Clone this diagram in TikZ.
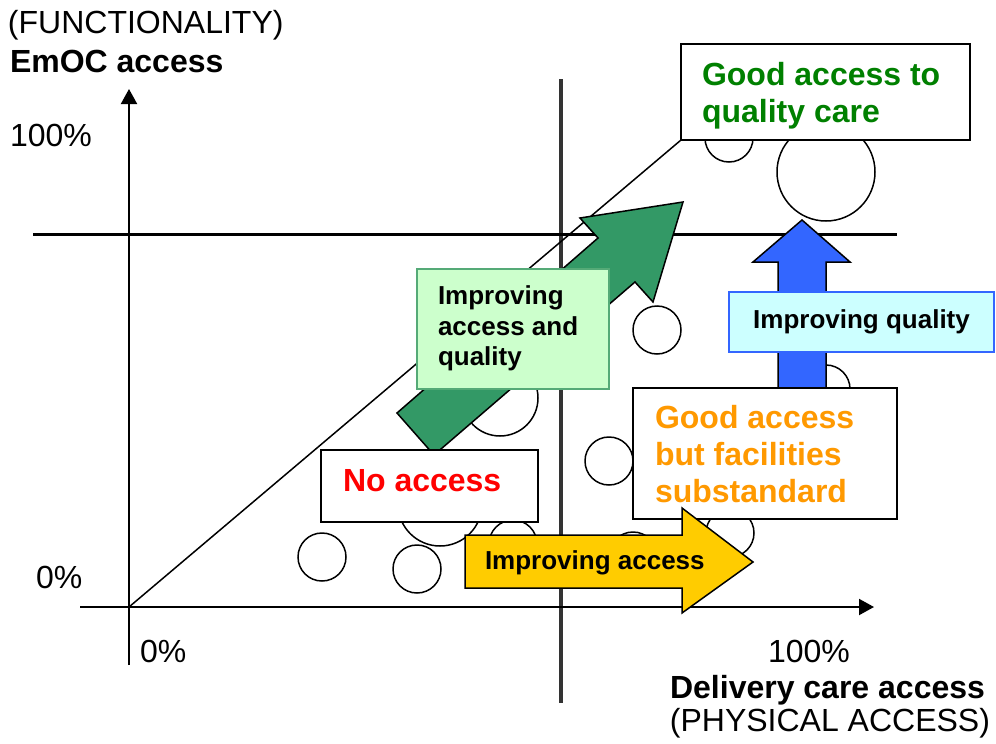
\documentclass[tikz,border=0pt]{standalone}
\usepackage{fontspec}
\setmainfont{Liberation Sans}
\usetikzlibrary{arrows.meta,fit}
\definecolor{tgreen}{HTML}{008000}
\definecolor{torange}{HTML}{FF9900}
\definecolor{agreen}{HTML}{339966}
\definecolor{lgreen}{HTML}{CCFFCC}
\definecolor{lgreenb}{HTML}{55AA77}
\definecolor{ablue}{HTML}{3366FF}
\definecolor{lcyan}{HTML}{CCFFFF}
\definecolor{ayellow}{HTML}{FFCC00}
\definecolor{vgray}{HTML}{333333}
\begin{document}
\begin{tikzpicture}[x=1pt,y=-1pt,
  big/.style={font=\fontsize{32}{36.8}\selectfont},
  bigb/.style={font=\fontsize{32}{36.8}\selectfont\bfseries},
  smallb/.style={font=\fontsize{26}{30.5}\selectfont\bfseries},
  lbl/.style={inner sep=0pt, outer sep=0pt, align=left},
  box/.style={draw, line width=2pt, fill=white, inner sep=0pt, outer sep=0pt},
  circ/.style={draw, circle, line width=1.5pt, fill=white, inner sep=0pt, outer sep=0pt, minimum size=48pt},
  axisline/.style={line width=2pt, -{Triangle[length=15pt,width=16pt]}},
  shapeline/.style={draw, line width=1.5pt, line join=miter}]
\useasboundingbox (0,0) rectangle (996,744);

% guide lines
\coordinate (vt) at (561,79);
\coordinate (vb) at (561,703);
\coordinate (hl) at (33,234);
\coordinate (hr) at (897,234);
\draw[line width=3.5pt, vgray] (vt) -- (vb);
\draw[line width=3pt] (hl) -- (hr);

% axes
\coordinate (o) at (129,607);
\coordinate (yb) at (129,665);
\coordinate (yt) at (129,89);
\coordinate (xl) at (80,607);
\coordinate (xr) at (874,607);
\draw[axisline] (yb) -- (yt);
\draw[axisline] (xl) -- (xr);

% good access to quality care box (defined for diagonal end)
\coordinate (gqnw) at (681,44);
\coordinate (gqse) at (970,140);
\draw[line width=1.5pt] (o) -- (gqnw |- gqse);

% circles
\node[circ] (c1) at (322,557) {};
\node[circ] (c2) at (417,569) {};
\node[circ] (c3) at (513,544) {};
\node[circ, minimum size=84pt] (c4) at (440,504) {};
\node[circ] (c5) at (633,556) {};
\node[circ] (c6) at (730,533) {};
\node[circ] (c7) at (609,461) {};
\node[circ] (c8) at (657,330) {};
\node[circ] (c9) at (826,389) {};
\node[circ] (c10) at (729,138) {};
\node[circ, minimum size=98pt] (c11) at (826,172) {};
\node[circ, minimum size=76pt] (c12) at (500,398) {};

% top box
\node[box, fit=(gqnw)(gqse)] (gq) {};
\node[lbl, bigb, text=tgreen, anchor=base west] (gqt) at (702,122.5) {Good access to\\quality care};

% green arrow
\draw[shapeline, fill=agreen] (397,413) -- (598,238) -- (580,218) -- (683,202) -- (653,302) -- (635,282) -- (434,455) -- cycle;

% improving access and quality box
\node[box, draw=lgreenb, fill=lgreen, fit={(417,269)(609,389)}] (iaq) {};
\node[lbl, smallb, anchor=base west] (iaqt) at (438,365.5) {Improving\\access and\\quality};

% no access box
\node[box, fit={(321,450)(538,522)}] (na) {};
\node[lbl, bigb, text=red, anchor=base west] (nat) at (343,491) {No access};

% blue arrow
\draw[shapeline, fill=ablue] (778,388) -- (778,262) -- (753,262) -- (802,220) -- (850,262) -- (826,262) -- (826,388) -- cycle;

% improving quality box
\node[box, draw=ablue, fill=lcyan, fit={(729,292)(994,352)}] (iq) {};
\node[lbl, smallb, anchor=base] (iqt) at (861.5,328) {Improving quality};

% good access but substandard box
\node[box, fit={(633,388)(897,519)}] (gb) {};
\node[lbl, bigb, text=torange, anchor=base west] (gbt) at (655,502.5) {Good access\\but facilities\\substandard};

% yellow arrow
\draw[shapeline, fill=ayellow] (465,535) -- (682,535) -- (682,508) -- (753,562) -- (682,613) -- (682,588) -- (465,588) -- cycle;
\node[lbl, smallb, anchor=base west] (iat) at (485,569) {Improving access};

% axis labels
\node[lbl, big, anchor=base west] (fn) at (8,34) {(FUNCTIONALITY)};
\node[lbl, bigb, anchor=base west] (em) at (10,72) {EmOC access};
\node[lbl, big, anchor=base west] (y100) at (10,146) {100\%};
\node[lbl, big, anchor=base west] (y0) at (36,588) {0\%};
\node[lbl, big, anchor=base west] (x0) at (140,662) {0\%};
\node[lbl, big, anchor=base west] (x100) at (768,662) {100\%};
\node[lbl, bigb, anchor=base east] (dc) at (985,698) {Delivery care access};
\node[lbl, big, anchor=base east] (pa) at (990,731) {(PHYSICAL ACCESS)};
\end{tikzpicture}
\end{document}
